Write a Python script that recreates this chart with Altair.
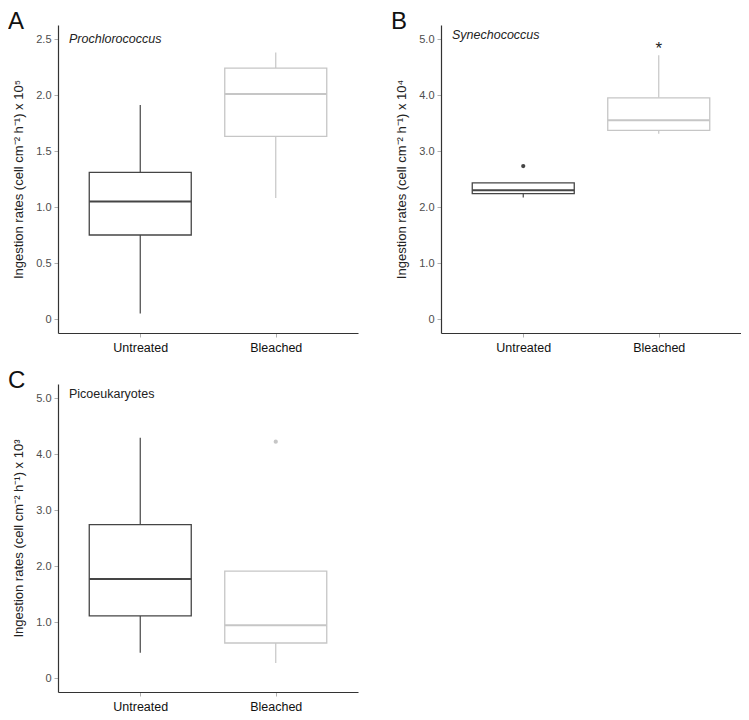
import altair as alt
import pandas as pd

groups = ["Untreated", "Bleached"]

# Panel A – Prochlorococcus (x 10^5)
a_min = [0.05, 1.08]
a_q1 = [0.75, 1.63]
a_med = [1.05, 2.01]
a_q3 = [1.31, 2.24]
a_max = [1.91, 2.38]

# Panel B – Synechococcus (x 10^4)
b_min = [2.17, 3.31]
b_q1 = [2.24, 3.37]
b_med = [2.30, 3.55]
b_q3 = [2.43, 3.95]
b_max = [2.43, 4.71]
b_out_group = ["Untreated"]
b_out_val = [2.73]
b_star_group = ["Bleached"]
b_star_val = [4.88]

# Panel C – Picoeukaryotes (x 10^3)
c_min = [0.45, 0.27]
c_q1 = [1.11, 0.625]
c_med = [1.77, 0.94]
c_q3 = [2.74, 1.91]
c_max = [4.29, 1.91]
c_out_group = ["Bleached"]
c_out_val = [4.22]

a_ticks = [0, 0.5, 1.0, 1.5, 2.0, 2.5]
bc_ticks = [0, 1.0, 2.0, 3.0, 4.0, 5.0]

FONT = "Liberation Sans"
W = 300
H = 308
BOX_W = 102

line_scale = alt.Scale(domain=groups, range=["#454545", "#c6c6c6"])
med_scale = alt.Scale(domain=groups, range=["#111111", "#bdbdbd"])
pt_scale = alt.Scale(domain=groups, range=["#111111", "#b8b8b8"])


def panel(letter, species, italic, mins, q1s, meds, q3s, maxs, ymax, ticks, power,
          out_g=None, out_v=None, star_g=None, star_v=None, sp_y=16):
    df = pd.DataFrame({"group": groups, "lo": mins, "q1": q1s, "med": meds,
                       "q3": q3s, "hi": maxs})
    xenc = alt.X("group:N", sort=groups,
                 scale=alt.Scale(type="point", padding=0.607),
                 axis=alt.Axis(title=None, labelAngle=0, labelColor="#111111",
                               labelFontSize=12.5, labelPadding=4))
    yscale = alt.Scale(domain=[-0.05 * ymax, 1.05 * ymax], nice=False, zero=False)
    yaxis = alt.Axis(values=ticks,
                     labelExpr="datum.value == 0 ? '0' : format(datum.value, '.1f')",
                     title=f"Ingestion rates (cell cm\u207b\u00b2 h\u207b\u00b9) x 10{power}",
                     titlePadding=10)
    base = alt.Chart(df)
    col = alt.Color("group:N", scale=line_scale, legend=None)
    w_lo = base.mark_rule(strokeWidth=1.2).encode(
        x=xenc, y=alt.Y("lo:Q", scale=yscale, axis=yaxis), y2="q1:Q", color=col)
    w_hi = base.mark_rule(strokeWidth=1.2).encode(
        x=xenc, y=alt.Y("q3:Q"), y2="hi:Q", color=col)
    box = base.mark_bar(fill="white", strokeWidth=1.3, size=BOX_W).encode(
        x=xenc, y=alt.Y("q1:Q"), y2="q3:Q",
        stroke=alt.Stroke("group:N", scale=line_scale, legend=None))
    med = base.mark_tick(size=BOX_W, thickness=2, opacity=1).encode(
        x=xenc, y=alt.Y("med:Q"),
        color=alt.Color("group:N", scale=med_scale, legend=None))
    layers = [w_lo, w_hi, box, med]
    if out_g:
        odf = pd.DataFrame({"group": out_g, "v": out_v})
        layers.append(alt.Chart(odf).mark_circle(size=18, opacity=1).encode(
            x=xenc, y=alt.Y("v:Q"),
            color=alt.Color("group:N", scale=pt_scale, legend=None)))
    if star_g:
        sdf = pd.DataFrame({"group": star_g, "v": star_v, "t": ["*"] * len(star_g)})
        layers.append(alt.Chart(sdf).mark_text(
            fontSize=17, font=FONT, color="#222222", baseline="alphabetic", dy=8).encode(
            x=xenc, y=alt.Y("v:Q"), text="t:N"))
    ldf = pd.DataFrame({"t": [letter]})
    layers.append(alt.Chart(ldf).mark_text(
        fontSize=24, font=FONT, color="#111111", align="left", baseline="alphabetic").encode(
        x=alt.value(-50), y=alt.value(4), text="t:N"))
    sdf2 = pd.DataFrame({"t": [species]})
    layers.append(alt.Chart(sdf2).mark_text(
        fontSize=12.5, font=FONT, color="#222222", align="left", baseline="alphabetic",
        fontStyle="italic" if italic else "normal").encode(
        x=alt.value(11), y=alt.value(sp_y), text="t:N"))
    return alt.layer(*layers).properties(width=W, height=H)


pa = panel("A", "Prochlorococcus", True, a_min, a_q1, a_med, a_q3, a_max, 2.5, a_ticks,
           "\u2075", sp_y=18)
pb = panel("B", "Synechococcus", True, b_min, b_q1, b_med, b_q3, b_max, 5.0, bc_ticks,
           "\u2074", b_out_group, b_out_val, b_star_group, b_star_val, sp_y=14)
pc = panel("C", "Picoeukaryotes", False, c_min, c_q1, c_med, c_q3, c_max, 5.0, bc_ticks,
           "\u00b3", c_out_group, c_out_val, sp_y=14)

top = alt.hconcat(pa, pb, spacing=33)
chart = alt.vconcat(top, pc, spacing=15).properties(padding={"top": 2, "left": 0, "right": 0, "bottom": 0}).configure_view(
    stroke=None
).configure_axis(
    grid=False, domainColor="#333333", domainWidth=1.2, tickColor="#b0b0b0",
    tickSize=4, labelFont=FONT, titleFont=FONT, labelColor="#4d4d4d",
    titleColor="#222222", labelFontSize=11, titleFontSize=13,
    titleFontWeight="normal", labelPadding=3
)

chart.save("out.html", embed_options={"renderer": "svg", "actions": False})
